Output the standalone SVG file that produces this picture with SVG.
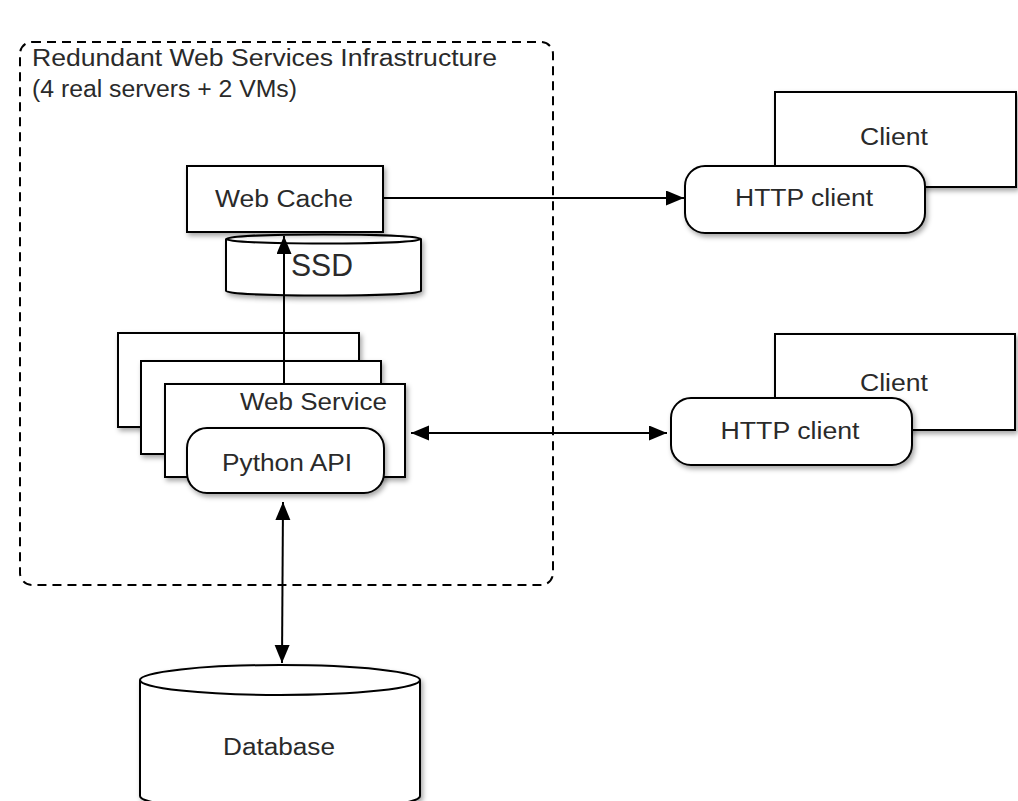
<svg xmlns="http://www.w3.org/2000/svg" width="1018" height="801" viewBox="0 0 1018 801">
  <defs>
    <filter id="sh" x="-10%" y="-10%" width="130%" height="140%">
      <feDropShadow dx="2" dy="3" stdDeviation="2.5" flood-color="#000" flood-opacity="0.35"/>
    </filter>
    <marker id="ah" markerUnits="userSpaceOnUse" markerWidth="19" markerHeight="16" refX="18" refY="7.5" orient="auto-start-reverse">
      <path d="M0,0 L18,7.5 L0,15 z" fill="#000"/>
    </marker>
  </defs>
  <style>
    .box { fill: #fff; stroke: #000; stroke-width: 2; }
    .lbl { font-family: "Liberation Sans", Arial, sans-serif; font-size: 23px; fill: #2a2a2a; }
    .c { text-anchor: middle; }
    .conn { stroke: #000; stroke-width: 2; fill: none; }
  </style>
  <rect width="1018" height="801" fill="#fff"/>

  <g id="infrastructure">
    <rect x="20" y="42" width="533" height="543" rx="12" fill="none" stroke="#000" stroke-width="2" stroke-dasharray="9 6"/>
    <text class="lbl" x="32" y="66" textLength="465" lengthAdjust="spacingAndGlyphs">Redundant Web Services Infrastructure</text>
    <text class="lbl" x="32" y="97" textLength="265" lengthAdjust="spacingAndGlyphs">(4 real servers + 2 VMs)</text>
  </g>

  <g id="ssd">
    <path class="box" filter="url(#sh)" d="M226,239 L226,291 A97.5,4.5 0 0 0 421,291 L421,239 A97.5,4.5 0 0 0 226,239 Z"/>
    <path class="conn" d="M226,239 A97.5,4.5 0 0 0 421,239"/>
    <text class="lbl" x="322" y="276" text-anchor="middle" style="font-size:31px" textLength="62" lengthAdjust="spacingAndGlyphs">SSD</text>
  </g>

  <g id="web-cache">
    <rect class="box" filter="url(#sh)" x="187" y="166" width="196" height="66"/>
    <text class="lbl c" x="284" y="207" textLength="138" lengthAdjust="spacingAndGlyphs">Web Cache</text>
  </g>

  <g id="web-service">
    <rect class="box" filter="url(#sh)" x="118" y="333" width="241" height="94"/>
    <rect class="box" filter="url(#sh)" x="141" y="361" width="240" height="93"/>
    <rect class="box" filter="url(#sh)" x="165" y="384" width="240" height="93"/>
    <text class="lbl" x="240" y="410" textLength="147" lengthAdjust="spacingAndGlyphs">Web Service</text>
  </g>

  <g id="python-api">
    <rect class="box" filter="url(#sh)" x="187" y="428" width="197" height="65" rx="20"/>
    <text class="lbl c" x="287" y="471" textLength="130" lengthAdjust="spacingAndGlyphs">Python API</text>
  </g>

  <g id="client-1">
    <rect class="box" filter="url(#sh)" x="775" y="92" width="241" height="95"/>
    <text class="lbl c" x="894" y="145" textLength="68" lengthAdjust="spacingAndGlyphs">Client</text>
  </g>
  <g id="http-client-1">
    <rect class="box" filter="url(#sh)" x="685" y="166" width="240" height="67" rx="20"/>
    <text class="lbl c" x="804" y="206" textLength="138" lengthAdjust="spacingAndGlyphs">HTTP client</text>
  </g>

  <g id="client-2">
    <rect class="box" filter="url(#sh)" x="775" y="334" width="240" height="96"/>
    <text class="lbl c" x="894" y="391" textLength="68" lengthAdjust="spacingAndGlyphs">Client</text>
  </g>
  <g id="http-client-2">
    <rect class="box" filter="url(#sh)" x="671" y="398" width="241" height="67" rx="20"/>
    <text class="lbl c" x="790" y="439" textLength="139" lengthAdjust="spacingAndGlyphs">HTTP client</text>
  </g>

  <g id="database">
    <path class="box" filter="url(#sh)" d="M140,680 L140,796 A140,15 0 0 0 420,796 L420,680 A140,15 0 0 0 140,680 Z"/>
    <path class="conn" d="M140,680 A140,15 0 0 0 420,680"/>
    <text class="lbl c" x="279" y="755" textLength="112" lengthAdjust="spacingAndGlyphs">Database</text>
  </g>

  <g id="connectors">
    <line class="conn" x1="383" y1="198" x2="684" y2="198" marker-end="url(#ah)"/>
    <line class="conn" x1="284" y1="384" x2="284" y2="236" marker-end="url(#ah)"/>
    <line class="conn" x1="411" y1="433" x2="667" y2="433" marker-start="url(#ah)" marker-end="url(#ah)"/>
    <line class="conn" x1="283" y1="502" x2="282" y2="663" marker-start="url(#ah)" marker-end="url(#ah)"/>
  </g>
</svg>
